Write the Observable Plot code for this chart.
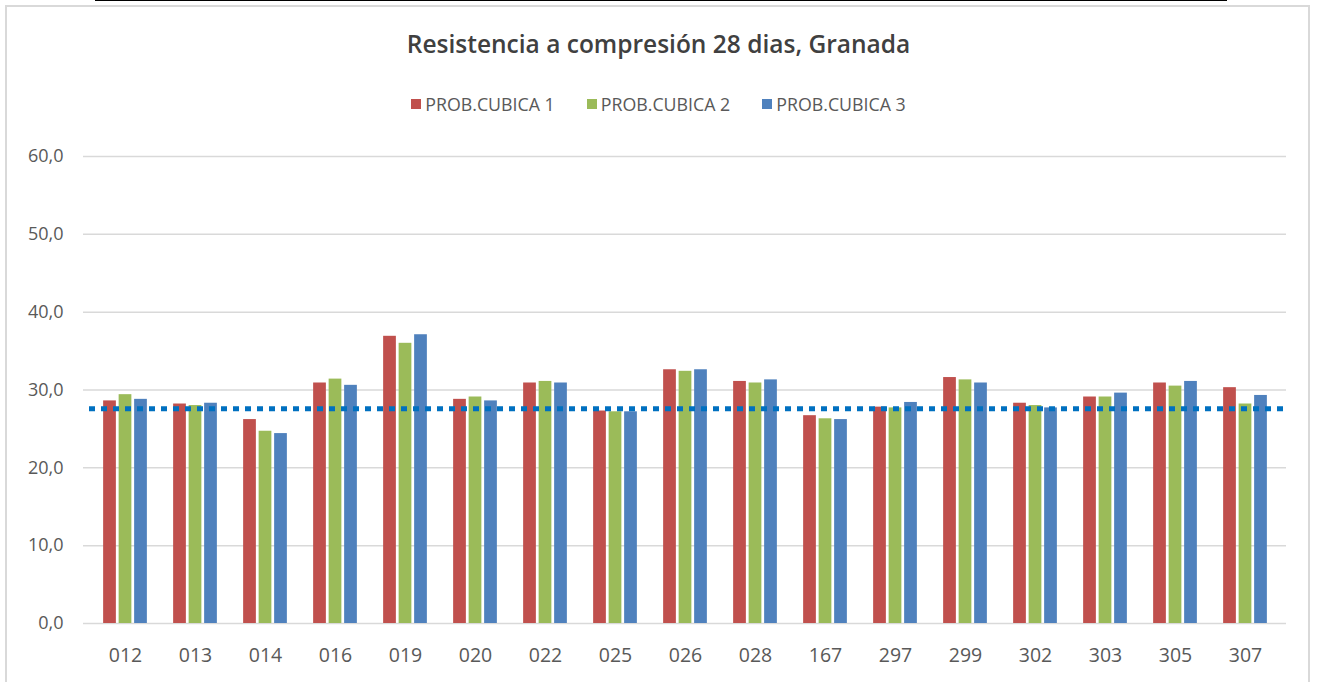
<!DOCTYPE html>
<html>
<head>
<meta charset="utf-8">
<script src="https://cdn.jsdelivr.net/npm/d3@7"></script>
<script src="https://cdn.jsdelivr.net/npm/@observablehq/plot@0.6"></script>
<style>
  html, body { margin: 0; padding: 0; background: #fff; }
  body { width: 1317px; height: 682px; position: relative; overflow: hidden; font-family: "Open Sans", sans-serif; }
  #table { position: absolute; left: 95px; top: -10px; width: 1132px; height: 11px; border: 2px solid #000; box-sizing: border-box; }
  #table .d { position: absolute; top: 0; bottom: 0; width: 0; border-left: 2px solid #000; }
  #frame { position: absolute; left: 5px; top: 5px; width: 1305px; height: 700px; border: 2px solid #d9d9d9; box-sizing: border-box; }
  #title { position: absolute; left: 0; width: 1317px; top: 27px; text-align: center; font-size: 24.5px; font-weight: 600; color: #404040; }
  #legend { position: absolute; left: 0; width: 1317px; top: 92px; display: flex; justify-content: center; gap: 32px; font-size: 17.8px; color: #595959; }
  #legend .item { display: flex; align-items: center; gap: 4px; }
  #legend .sw { width: 10px; height: 10px; display: inline-block; }
  #chart { position: absolute; left: 0; top: 130px; }
</style>
</head>
<body>
<div id="table"><div class="d" style="left:413px"></div><div class="d" style="left:753px"></div></div>
<div id="frame"></div>
<div id="title">Resistencia a compresión 28 dias, Granada</div>
<div id="legend"></div>
<div id="chart"></div>
<script>
const categorias = ["012","013","014","016","019","020","022","025","026","028","167","297","299","302","303","305","307"];
const series = ["PROB.CUBICA 1", "PROB.CUBICA 2", "PROB.CUBICA 3"];
const cubica1 = [28.6, 28.2, 26.2, 30.9, 36.9, 28.8, 30.9, 27.3, 32.6, 31.1, 26.7, 27.8, 31.6, 28.3, 29.1, 30.9, 30.3];
const cubica2 = [29.4, 28.0, 24.7, 31.4, 36.0, 29.1, 31.1, 27.2, 32.4, 30.9, 26.3, 27.7, 31.3, 28.0, 29.1, 30.5, 28.2];
const cubica3 = [28.8, 28.3, 24.4, 30.6, 37.1, 28.6, 30.9, 27.2, 32.6, 31.3, 26.2, 28.4, 30.9, 27.7, 29.6, 31.1, 29.3];
const promedio = 27.6;
const yTicks = [0, 10, 20, 30, 40, 50, 60];
const colores = ["#C0504D", "#9BBB59", "#4F81BD"];

const valores = [cubica1, cubica2, cubica3];

// legend
const leg = document.getElementById("legend");
series.forEach((s, i) => {
  const it = document.createElement("span");
  it.className = "item";
  it.innerHTML = `<span class="sw" style="background:${colores[i]}"></span><span>${s}</span>`;
  leg.appendChild(it);
});

const width = 1317, height = 552;
const marginLeft = 83, marginRight = 31, marginTop = 26, marginBottom = 59;
const band = (width - marginLeft - marginRight) / categorias.length;
const barW = 13.5, step = 15.5;

const barMarks = valores.map((vals, i) => {
  const data = categorias.map((c, j) => ({cat: c, serie: series[i], v: vals[j]}));
  const left = band / 2 + (i - 1) * step - barW / 2;
  return Plot.barY(data, {x: "cat", y: "v", fill: colores[i], insetLeft: left, insetRight: band - left - barW});
});

const chart = Plot.plot({
  width, height, marginLeft, marginRight, marginTop, marginBottom,
  style: {fontFamily: "Open Sans, sans-serif", color: "#595959", background: "transparent"},
  x: {domain: categorias, padding: 0, label: null},
  y: {domain: [0, 60], label: null},
  marks: [
    Plot.ruleY(yTicks, {stroke: "#d9d9d9", strokeWidth: 1.5}),
    Plot.axisY({ticks: yTicks, tickSize: 0, tickPadding: 20, tickFormat: d => d.toFixed(1).replace(".", ","), fontSize: 18, fill: "#595959", label: null}),
    Plot.axisX({tickSize: 0, tickPadding: 25, fontSize: 19.5, fill: "#595959", label: null}),
    ...barMarks,
    Plot.ruleY([promedio], {stroke: "#0070C0", strokeWidth: 5, strokeDasharray: "6,6", insetLeft: 6, insetRight: 3})
  ]
});
document.getElementById("chart").appendChild(chart);
</script>
</body>
</html>
